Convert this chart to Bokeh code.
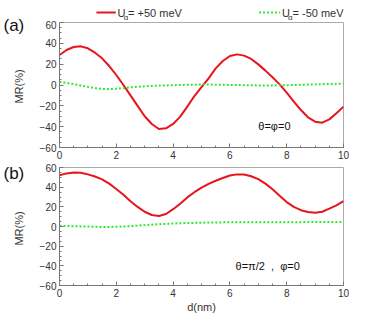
from bokeh.plotting import figure
from bokeh.layouts import column, row
from bokeh.models import Range1d, FixedTicker, Label
from bokeh.core.properties import value
from bokeh.embed import file_html
from bokeh.resources import INLINE
import math

# ---------------- data ----------------
d_nm = [0, 0.25, 0.5, 0.75, 1.0, 1.25, 1.5, 1.75, 2.0, 2.25, 2.5, 2.75, 3.0, 3.25,
        3.5, 3.75, 4.0, 4.25, 4.5, 4.75, 5.0, 5.25, 5.5, 5.75, 6.0, 6.25, 6.5, 6.75,
        7.0, 7.25, 7.5, 7.75, 8.0, 8.25, 8.5, 8.75, 9.0, 9.25, 9.5, 9.75, 10.0]

# panel (a): theta = phi = 0
mr_a_plus = [28.8, 33.6, 36.5, 37.1, 35.2, 31.0, 25.6, 18.2, 9.6, 0.0, -10.0, -20.0,
             -30.0, -37.4, -42.2, -41.6, -37.4, -30.4, -20.8, -10.6, -2.0, 6.4, 16.0,
             23.0, 27.8, 29.4, 28.2, 25.0, 19.8, 13.8, 7.4, 0.6, -7.4, -16.0, -24.0,
             -31.0, -35.2, -36.2, -33.0, -27.2, -20.8]
mr_a_minus = [3.0, 2.0, 0.8, -0.5, -1.8, -3.0, -3.8, -4.0, -3.6, -3.0, -2.3, -1.7,
              -1.2, -0.9, -0.6, -0.4, -0.2, 0.0, 0.2, 0.3, 0.4, 0.4, 0.3, 0.2, 0.1,
              0.0, -0.2, -0.3, -0.4, -0.4, -0.4, -0.3, -0.2, 0.0, 0.2, 0.4, 0.6, 0.8,
              1.0, 1.1, 1.2]

# panel (b): theta = pi/2, phi = 0
mr_b_plus = [52.1, 54.0, 55.0, 54.7, 53.0, 50.8, 47.9, 43.6, 38.1, 32.2, 25.7, 19.9,
             15.0, 11.7, 10.7, 12.7, 17.6, 23.1, 29.6, 34.9, 39.5, 43.3, 46.5, 49.3,
             51.8, 53.0, 52.8, 51.1, 48.2, 43.6, 37.8, 31.3, 24.8, 19.9, 16.6, 14.7,
             14.0, 15.0, 18.2, 21.5, 25.7]
mr_b_minus = [0.7, 0.5, 0.3, 0.1, 0.0, -0.3, -0.5, -0.5, -0.3, 0.0, 0.4, 0.9, 1.4,
              1.9, 2.3, 2.7, 3.0, 3.3, 3.5, 3.7, 3.9, 4.0, 4.1, 4.2, 4.3, 4.3, 4.3,
              4.3, 4.3, 4.3, 4.3, 4.3, 4.4, 4.4, 4.4, 4.5, 4.5, 4.5, 4.6, 4.6, 4.6]

x_ticks = [0, 2, 4, 6, 8, 10]
y_ticks = [-60, -40, -20, 0, 20, 40, 60]
series_labels = ["= +50 meV", "= -50 meV"]
panel_labels = ["(a)", "(b)"]
angle_labels = ["\u03b8=\u03c6=0", "\u03b8=\u03c0/2\u00a0\u00a0,\u00a0\u00a0\u03c6=0"]
y_label = "MR(%)"
x_label = "d(nm)"

RED = "#e8141c"
GREEN = "#2ee82e"
FONT = "Liberation Sans"
TXT = "#333333"
FW = 284
LW = 26      # left strip width
CW = 323     # right column width
H = 311


def bare(w, h):
    f = figure(width=w, height=h, x_range=Range1d(0, w), y_range=Range1d(0, h),
               output_backend="svg", toolbar_location=None, min_border=0,
               x_axis_location=None, y_axis_location=None)
    f.grid.visible = False
    f.outline_line_color = None
    return f


# ---------------- left strip: panel letters and y-axis titles ----------------
left = bare(LW, H)
left.text(x=[3, 3], y=[H - 25, H - 173], text=panel_labels, text_font=value(FONT),
          text_font_size="17px", text_color="#111111", text_baseline="middle")
left.text(x=[18, 18], y=[H - 86, H - 228], text=[y_label, y_label], angle=math.pi / 2,
          text_font=value(FONT), text_font_size="11px", text_color=TXT,
          text_align="center", text_baseline="middle")

# ---------------- legend strip ----------------
leg = bare(CW, 20)
leg.line(x=[42, 64], y=[8, 8], line_color=RED, line_width=2)
leg.line(x=[227, 251], y=[8, 8], line_color=GREEN, line_width=2, line_dash="2 2")
leg.text(x=[66, 253], y=[8, 8], text=["U", "U"], text_font=value(FONT),
         text_font_size="11px", text_color=TXT, text_baseline="middle")
leg.text(x=[73, 260], y=[3.5, 3.5], text=["g", "g"], text_font=value(FONT),
         text_font_size="8px", text_color=TXT, text_baseline="middle")
leg.text(x=[78, 265], y=[8, 8], text=series_labels, text_font=value(FONT),
         text_font_size="11px", text_color=TXT, text_baseline="middle")


def make_panel(plus, minus, fh, btop, bbottom, show_xlabel, alabel, ax, ay):
    p = figure(frame_width=FW, frame_height=fh, x_range=Range1d(0, 10),
               y_range=Range1d(-60, 60), output_backend="svg", toolbar_location=None,
               min_border_left=33, min_border_right=6, min_border_top=btop,
               min_border_bottom=bbottom)
    p.grid.visible = False
    p.outline_line_color = "#aaaaaa"
    p.line(d_nm, plus, line_color=RED, line_width=2)
    p.line(d_nm, minus, line_color=GREEN, line_width=2, line_dash="2 2")
    for a in [p.xaxis[0], p.yaxis[0]]:
        a.axis_line_color = "#777777"
        a.major_tick_in = 4
        a.major_tick_out = 0
        a.minor_tick_in = 2
        a.minor_tick_out = 0
        a.major_tick_line_color = "#777777"
        a.minor_tick_line_color = "#777777"
        a.major_label_text_font = FONT
        a.major_label_text_font_size = "10px"
        a.major_label_text_color = TXT
        a.axis_label_text_font = FONT
        a.axis_label_text_font_size = "11px"
        a.axis_label_text_font_style = "normal"
        a.axis_label_text_color = TXT
    p.xaxis.ticker = FixedTicker(ticks=x_ticks, minor_ticks=[i * 0.5 for i in range(21)])
    p.yaxis.ticker = FixedTicker(ticks=y_ticks, minor_ticks=list(range(-60, 61, 5)))
    p.xaxis.major_label_standoff = 3
    p.yaxis.major_label_standoff = 3
    if show_xlabel:
        p.xaxis.axis_label = x_label
        p.xaxis.axis_label_standoff = 1
    p.add_layout(Label(x=ax, y=ay, text=alabel, text_font=FONT, text_font_size="11px",
                       text_color="#111111", text_baseline="middle"))
    return p


pa = make_panel(mr_a_plus, mr_a_minus, 125, 2, 14, False, angle_labels[0], 7.0, -39)
pb = make_panel(mr_b_plus, mr_b_minus, 118, 6, 26, True, angle_labels[1], 6.2, -40)

layout = row(left, column(leg, pa, pb, spacing=0), spacing=0)
open("out.html", "w").write(file_html(layout, INLINE))
